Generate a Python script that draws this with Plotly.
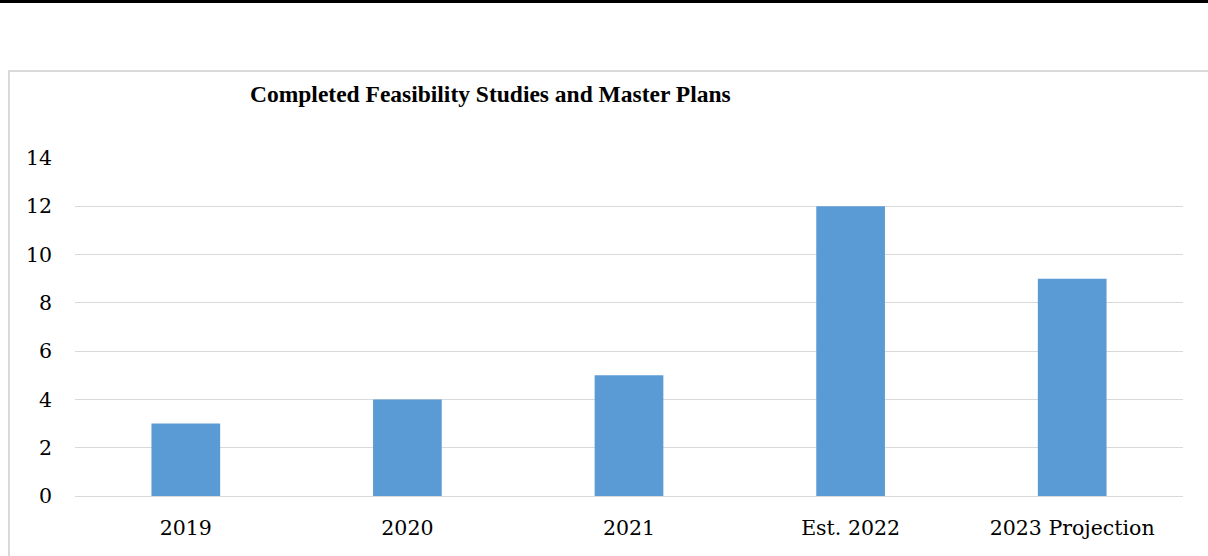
import plotly.graph_objects as go

categories = ["2019", "2020", "2021", "Est. 2022", "2023 Projection"]
values = [3, 4, 5, 12, 9]
y_ticks = [0, 2, 4, 6, 8, 10, 12, 14]
title_text = "Completed Feasibility Studies and Master Plans"

TICK_FONT = "DejaVu Serif"
TITLE_FONT = "Liberation Serif"
W, H = 1208, 556
L, R, T, B = 75, 25, 158, 60
pw, ph = W - L - R, H - T - B


def px_x(x):
    return (x - L) / pw


def px_y(y):
    return (H - B - y) / ph


fig = go.Figure(
    go.Bar(
        x=categories,
        y=values,
        marker=dict(color="#5b9bd5", line=dict(width=0)),
        hoverinfo="x+y",
    )
)

fig.update_layout(
    width=W,
    height=H,
    margin=dict(l=L, r=R, t=T, b=B),
    paper_bgcolor="white",
    plot_bgcolor="white",
    bargap=0.69,
    showlegend=False,
    font=dict(family=TICK_FONT, size=20, color="#000000"),
    xaxis=dict(
        showgrid=False,
        showline=True,
        linecolor="#d9d9d9",
        linewidth=1,
        ticks="",
        tickfont=dict(family=TICK_FONT, size=20.5, color="#000000"),
        ticklabelstandoff=13,
    ),
    yaxis=dict(
        range=[0, 14],
        tickvals=y_ticks,
        showgrid=True,
        gridcolor="#d9d9d9",
        gridwidth=1,
        zeroline=False,
        showline=False,
        ticks="",
        tickfont=dict(family=TICK_FONT, size=20.5, color="#000000"),
        ticklabelstandoff=22,
    ),
    shapes=[
        dict(
            type="rect", xref="paper", yref="paper",
            x0=px_x(9), x1=px_x(1215), y0=px_y(71), y1=px_y(570),
            line=dict(color="#d9d9d9", width=2), fillcolor="rgba(0,0,0,0)",
            layer="below",
        ),
        dict(
            type="line", xref="paper", yref="paper",
            x0=px_x(-5), x1=px_x(1215), y0=px_y(1.5), y1=px_y(1.5),
            line=dict(color="#000000", width=3),
        ),
    ],
    annotations=[
        dict(
            text="<b>" + title_text + "</b>",
            xref="paper", yref="paper",
            x=px_x(490), y=px_y(94),
            xanchor="center", yanchor="middle",
            showarrow=False,
            font=dict(family=TITLE_FONT, size=23.5, color="#000000"),
        )
    ],
)

fig.write_html(
    "out.html",
    config={"displayModeBar": False},
    post_script="document.body.style.margin='0';document.body.style.overflow='hidden';",
)
